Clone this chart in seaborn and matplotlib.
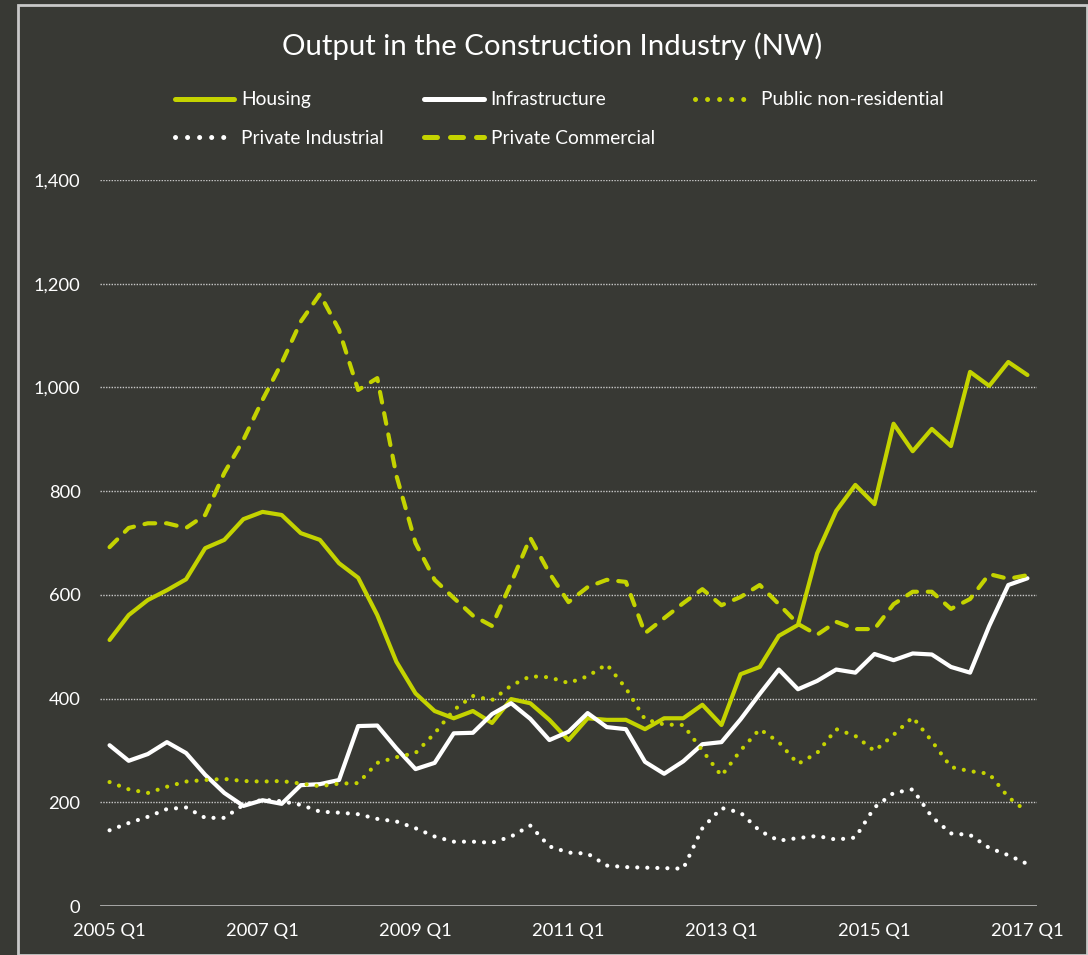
import numpy as np
import pandas as pd
import matplotlib
matplotlib.use("Agg")
import matplotlib.pyplot as plt
import seaborn as sns
from matplotlib.patches import Rectangle

# ---------------- data ----------------
quarters = [f"{y} Q{q}" for y in range(2005, 2017) for q in (1, 2, 3, 4)] + ["2017 Q1"]

housing = [513, 561, 590, 609, 630, 690, 706, 746, 760, 754, 719, 706, 661, 633, 561, 471,
           410, 376, 362, 376, 353, 399, 391, 359, 320, 362, 359, 359, 341, 362, 362, 388,
           349, 447, 461, 521, 542, 680, 762, 812, 775, 930, 877, 920, 887, 1030, 1003, 1049, 1024]
infrastructure = [310, 280, 293, 316, 295, 253, 218, 193, 204, 197, 233, 235, 243, 347, 348, 304,
                  264, 276, 333, 334, 370, 391, 361, 320, 336, 372, 345, 341, 278, 255, 279, 312,
                  316, 360, 409, 456, 418, 434, 456, 450, 486, 474, 487, 485, 461, 450, 540, 619, 632]
public_nonres = [239, 225, 218, 230, 240, 243, 245, 241, 240, 241, 236, 231, 236, 237, 276, 287,
                 295, 333, 378, 405, 397, 425, 443, 441, 430, 443, 466, 420, 360, 350, 349, 300,
                 251, 300, 341, 316, 274, 295, 341, 328, 299, 330, 364, 318, 268, 260, 255, 210, 181]
private_industrial = [146, 160, 172, 187, 190, 170, 170, 195, 205, 202, 195, 182, 180, 177, 168, 163,
                      150, 134, 124, 124, 122, 134, 155, 115, 103, 101, 78, 75, 74, 73, 72, 150,
                      189, 180, 145, 126, 131, 135, 128, 132, 190, 218, 225, 172, 140, 137, 112, 98, 81]
private_commercial = [692, 729, 738, 738, 729, 754, 835, 899, 976, 1047, 1127, 1180, 1111, 995, 1018,
                      830, 700, 629, 594, 560, 540, 623, 710, 642, 586, 615, 629, 625, 526, 555, 584,
                      611, 580, 596, 619, 582, 544, 523, 548, 534, 534, 582, 606, 606, 573, 592, 640,
                      631, 638]

series_names = ["Housing", "Infrastructure", "Public non-residential",
                "Private Industrial", "Private Commercial"]
series_values = [housing, infrastructure, public_nonres, private_industrial, private_commercial]

y_ticks = [0, 200, 400, 600, 800, 1000, 1200, 1400]
x_tick_labels = [f"{y} Q1" for y in range(2005, 2018, 2)]

# ---------------- style ----------------
BG = "#383934"
LIME = "#c4d300"
WHITE = "#ffffff"
GRID = "#c8c8c8"

sns.set_theme(style="dark")
plt.rcParams["font.family"] = ["Lato", "DejaVu Sans"]

fig = plt.figure(figsize=(10.88, 9.55), dpi=100, facecolor=BG)
ax = fig.add_axes([100 / 1088, 1 - 906 / 955, 937 / 1088, (906 - 180) / 955])
ax.set_facecolor(BG)

styles = {
    "Housing": dict(color=LIME, linestyle="-"),
    "Infrastructure": dict(color=WHITE, linestyle="-"),
    "Public non-residential": dict(color=LIME, linestyle=(0, (0.01, 2.4))),
    "Private Industrial": dict(color=WHITE, linestyle=(0, (0.01, 2.4))),
    "Private Commercial": dict(color=LIME, linestyle=(0, (2.6, 2.6))),
}

df = pd.DataFrame({"idx": np.arange(len(quarters)), "quarter": quarters})
for name, vals in zip(series_names, series_values):
    st = styles[name]
    sns.lineplot(x=df["idx"], y=vals, ax=ax, color=st["color"], linestyle=st["linestyle"],
                 linewidth=3.0, dash_capstyle="round", solid_capstyle="round",
                 solid_joinstyle="round", label=name)

handles = {name: ln for ln, name in zip(ax.get_lines(), series_names)}
if ax.get_legend():
    ax.get_legend().remove()

ax.set_xlim(-0.5, len(quarters) - 0.5)
ax.set_ylim(0, 1400)
ax.set_yticks(y_ticks)
ax.set_yticklabels([f"{v:,}" for v in y_ticks])
ax.set_xticks(np.arange(0, len(quarters), 8))
ax.set_xticklabels(x_tick_labels)
ax.set_xlabel("")
ax.set_ylabel("")
ax.tick_params(axis="both", colors="white", labelsize=13.2, length=0)
ax.tick_params(axis="y", pad=14)
ax.tick_params(axis="x", pad=12)
for lab in ax.get_xticklabels() + ax.get_yticklabels():
    lab.set_color("white")

for s in ax.spines.values():
    s.set_visible(False)
ax.grid(False)
for v in y_ticks[1:]:
    ax.axhline(v, color=GRID, linewidth=1.0, linestyle=(0, (1, 1)), zorder=0.5)
ax.axhline(0, color=GRID, linewidth=1.8, zorder=0.6)

fig.text(552 / 1088, 1 - 46 / 955, "Output in the Construction Industry (NW)",
         ha="center", va="center", color="white", fontsize=21.2)

order = ["Housing", "Private Industrial", "Infrastructure", "Private Commercial",
         "Public non-residential"]
leg = fig.legend([handles[n] for n in order], order, ncol=3,
                 loc="center left", bbox_to_anchor=(175 / 1088, 1 - 119 / 955),
                 frameon=False, fontsize=13.8, handlelength=3.1, handletextpad=0.36,
                 columnspacing=2.1, labelspacing=1.12, borderpad=0, borderaxespad=0,
                 labelcolor="white")
for h in leg.legend_handles:
    h.set_linewidth(3.6)

fig.patches.append(Rectangle((18 / 1088, 0), (1087 - 18) / 1088, 1 - 5 / 955,
                             transform=fig.transFigure, fill=False,
                             edgecolor=GRID, linewidth=2.0))

fig.savefig("out.png", dpi=100, facecolor=BG)
